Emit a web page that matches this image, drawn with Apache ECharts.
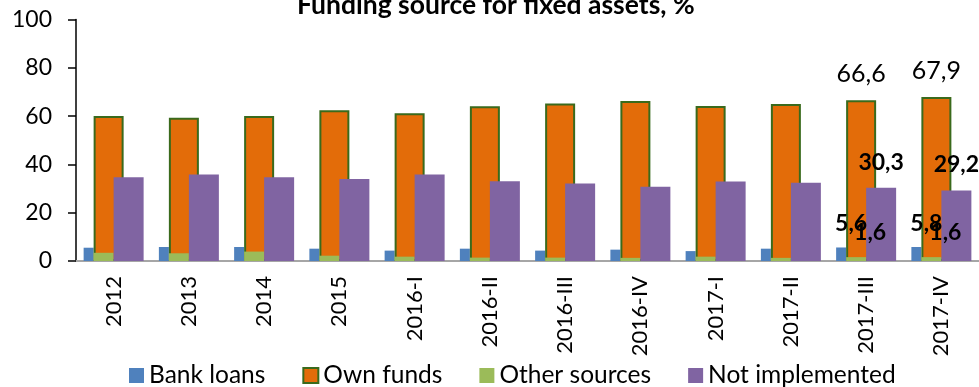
<!DOCTYPE html>
<html>
<head>
<meta charset="utf-8">
<script src="https://cdn.jsdelivr.net/npm/echarts@6/dist/echarts.min.js"></script>
<style>html,body{margin:0;padding:0;background:#fff;}#c{width:979px;height:387px;}</style>
</head>
<body>
<div id="c"></div>
<script>
var categories = ['2012','2013','2014','2015','2016-I','2016-II','2016-III','2016-IV','2017-I','2017-II','2017-III','2017-IV'];
var bankLoans = [5.5, 5.8, 5.8, 5.1, 4.3, 5.1, 4.3, 4.7, 4.1, 5.1, 5.6, 5.8];
var ownFunds = [60.0, 59.3, 60.0, 62.4, 61.2, 64.1, 65.2, 66.3, 64.2, 65.0, 66.6, 67.9];
var otherSources = [3.4, 3.2, 3.9, 2.2, 1.8, 1.4, 1.4, 1.3, 1.8, 1.3, 1.6, 1.6];
var notImplemented = [34.7, 35.8, 34.7, 34.0, 35.8, 33.0, 32.1, 30.7, 32.9, 32.4, 30.3, 29.2];
var labeledIdx = [10, 11];
var yTicks = [0, 20, 40, 60, 80, 100];

function fmt(p) {
  return labeledIdx.indexOf(p.dataIndex) >= 0 ? String(p.value).replace('.', ',') : '';
}
function zeros() { return categories.map(function () { return 0; }); }
function spacer(axis, w) {
  return { type: 'bar', xAxisIndex: axis, data: zeros(), barWidth: w, barGap: 0,
    itemStyle: { color: 'rgba(0,0,0,0)' }, silent: true, label: { show: false } };
}
var hiddenAxis = function () {
  return { type: 'category', data: categories, show: false, gridIndex: 0 };
};
function lbl(extra) {
  var o = { show: true, position: 'top', formatter: fmt, color: '#000', fontFamily: 'Lato',
    overflow: 'none', width: 80 };
  for (var k in extra) o[k] = extra[k];
  return o;
}

var chart = echarts.init(document.getElementById('c'));
chart.setOption({
  animation: false,
  textStyle: { fontFamily: 'Lato', color: '#000' },
  title: {
    text: 'Funding source for fixed assets, %',
    left: 297, top: -8, padding: 0,
    textStyle: { fontFamily: 'Lato', fontWeight: 'bold', fontSize: 26.5, color: '#000' }
  },
  legend: {
    data: ['Bank loans', 'Own funds', 'Other sources', 'Not implemented'],
    left: 129, top: 363, padding: 0,
    itemWidth: 15, itemHeight: 15, itemGap: 37, icon: 'rect',
    textStyle: { fontFamily: 'Lato', fontSize: 24.5, color: '#000' }
  },
  grid: { left: 76, right: -1, top: 19.5, bottom: 126 },
  xAxis: [
    { type: 'category', data: categories, gridIndex: 0,
      axisLine: { lineStyle: { color: '#A6A6A6', width: 2 } },
      axisTick: { show: false },
      axisLabel: { rotate: 90, margin: 15, fontSize: 22, color: '#000', fontFamily: 'Lato', interval: 0 } },
    hiddenAxis(), hiddenAxis(), hiddenAxis()
  ],
  yAxis: {
    type: 'value', min: yTicks[0], max: yTicks[yTicks.length - 1], interval: 20,
    axisLine: { show: true, lineStyle: { color: '#000', width: 1.5 } },
    axisTick: { show: true, length: 8, lineStyle: { color: '#000', width: 1.5 } },
    splitLine: { show: false },
    axisLabel: { fontSize: 23, color: '#000', margin: 24, fontFamily: 'Lato' }
  },
  series: [
    { name: 'Bank loans', type: 'bar', xAxisIndex: 0, data: bankLoans, barWidth: 10, barGap: 0,
      itemStyle: { color: '#4F81BD' },
      label: lbl({ distance: 12, offset: [10, 0], fontSize: 23, fontWeight: 'bold' }) },
    spacer(0, 50),
    { name: 'Own funds', type: 'bar', xAxisIndex: 1, data: ownFunds, barWidth: 30, barGap: 0,
      itemStyle: { color: '#E36C09', borderColor: '#3A6A1C', borderWidth: 2 },
      label: lbl({ distance: 14, fontSize: 25 }) },
    spacer(1, 10),
    spacer(2, 10),
    { name: 'Other sources', type: 'bar', xAxisIndex: 2, data: otherSources, barWidth: 20, barGap: 0,
      itemStyle: { color: '#9BBB59' },
      label: lbl({ distance: 13, offset: [14, 0], fontSize: 23, fontWeight: 'bold' }) },
    spacer(2, 30),
    spacer(3, 30),
    { name: 'Not implemented', type: 'bar', xAxisIndex: 3, data: notImplemented, barWidth: 30, barGap: 0,
      itemStyle: { color: '#8064A2' },
      label: lbl({ distance: 14, fontSize: 23, fontWeight: 'bold' }) }
  ]
});
</script>
</body>
</html>
